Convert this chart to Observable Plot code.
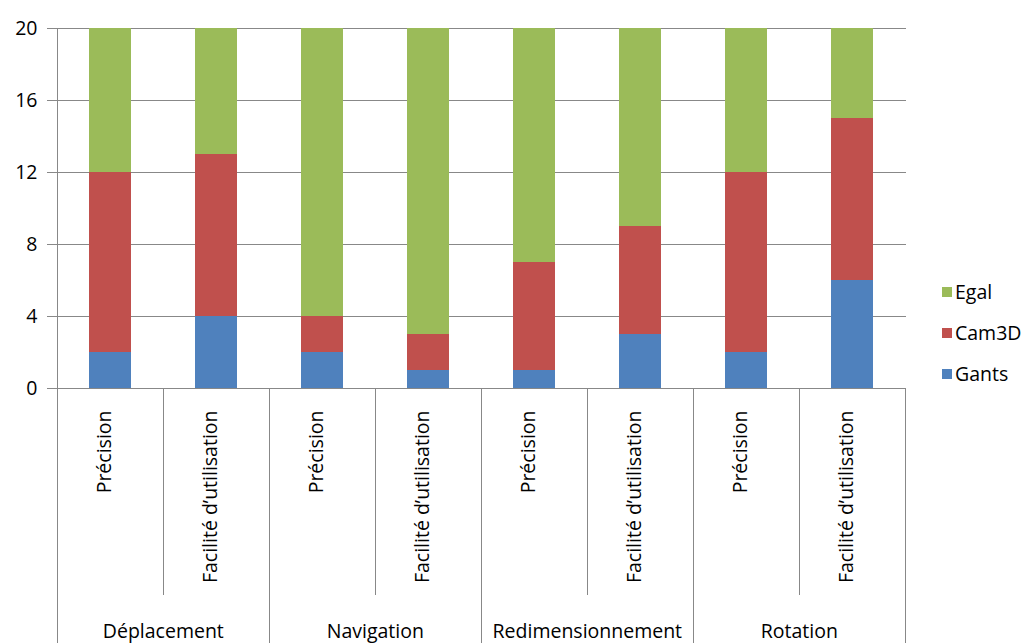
<!DOCTYPE html>
<html>
<head>
<meta charset="utf-8">
<script src="https://cdn.jsdelivr.net/npm/d3@7"></script>
<script src="https://cdn.jsdelivr.net/npm/@observablehq/plot@0.6"></script>
<style>
  html, body { margin: 0; padding: 0; background: #fff; }
</style>
</head>
<body>
<div id="chart"></div>
<script>
// ---- data ----
const groups = ["Déplacement", "Navigation", "Redimensionnement", "Rotation"];
const criteria = ["Précision", "Facilité d’utilisation"];
const series = ["Gants", "Cam3D", "Egal"];
const gants = [2, 4, 2, 1, 1, 3, 2, 6];
const cam3d = [10, 9, 2, 2, 6, 6, 10, 9];
const egal  = [8, 7, 16, 17, 13, 11, 8, 5];
const yTicks = [0, 4, 8, 12, 16, 20];
const colors = ["#4F81BD", "#C0504D", "#9BBB59"];

// ---- build table ----
const keys = [];
groups.forEach(g => criteria.forEach(c => keys.push(g + "|" + c)));
const valuesBySeries = [gants, cam3d, egal];
const rows = [];
series.forEach((s, si) => keys.forEach((k, i) => rows.push({key: k, series: s, value: valuesBySeries[si][i]})));

const W = 1029, H = 643;
const ML = 55, MR = 123, MT = 28, MB = 255;
const step = (W - ML - MR) / keys.length;
const grid = "#888888";
const font = "'Open Sans', sans-serif";
const FS = 19.5;

function separators(index, scales, values, dims) {
  const x = scales.x;
  const g = d3.create("svg:g").attr("stroke", grid).attr("stroke-width", 1);
  const bottom = dims.height - dims.marginBottom;
  const bounds = keys.map((k, i) => ({px: x(k), groupStart: i % 2 === 0, first: i === 0}));
  bounds.push({px: x(keys[keys.length - 1]) + step, groupStart: true, first: false});
  bounds.forEach(b => {
    const px = Math.round(b.px) + 0.5;
    g.append("line")
      .attr("x1", px).attr("x2", px)
      .attr("y1", b.first ? dims.marginTop : bottom)
      .attr("y2", b.groupStart ? dims.height : bottom + 207);
  });
  return g.node();
}

function legend(index, scales, values, dims) {
  const g = d3.create("svg:g")
    .attr("font-family", font).attr("font-size", FS)
    .attr("text-anchor", "start").attr("stroke", "none");
  const order = [2, 1, 0];
  order.forEach((si, j) => {
    const cy = 292 + j * 41;
    g.append("rect").attr("x", 942).attr("y", cy - 5).attr("width", 10).attr("height", 10)
      .attr("fill", colors[si]).attr("stroke", "none");
    g.append("text").attr("x", 955).attr("y", cy).attr("dy", "0.35em")
      .attr("fill", "#000").attr("text-anchor", "start").text(series[si]);
  });
  return g.node();
}

const chart = Plot.plot({
  width: W, height: H,
  marginLeft: ML, marginRight: MR, marginTop: MT, marginBottom: MB,
  style: {fontFamily: font, fontSize: FS + "px", background: "#fff", color: "#000"},
  x: {domain: keys, padding: 0, axis: null},
  y: {domain: [0, 20], axis: null},
  color: {domain: series, range: colors},
  marks: [
    Plot.ruleY(yTicks, {stroke: grid, insetLeft: -8}),
    Plot.barY(rows, {x: "key", y: "value", fill: "series", insetLeft: 32, insetRight: 32}),
    Plot.text(yTicks, {y: d => d, text: d => String(d), frameAnchor: "left", textAnchor: "end", dx: -18, fill: "#000", fontSize: FS}),
    separators,
    Plot.text(keys, {x: d => d, text: d => d.split("|")[1], rotate: -90, textAnchor: "end", frameAnchor: "bottom", dy: 22, fill: "#000", fontSize: FS}),
    Plot.text(groups, {x: g => g + "|" + criteria[1], text: g => g, dx: -step / 2, frameAnchor: "bottom", dy: 249, fill: "#000", fontSize: FS}),
    legend
  ]
});
document.getElementById("chart").appendChild(chart);
</script>
</body>
</html>
